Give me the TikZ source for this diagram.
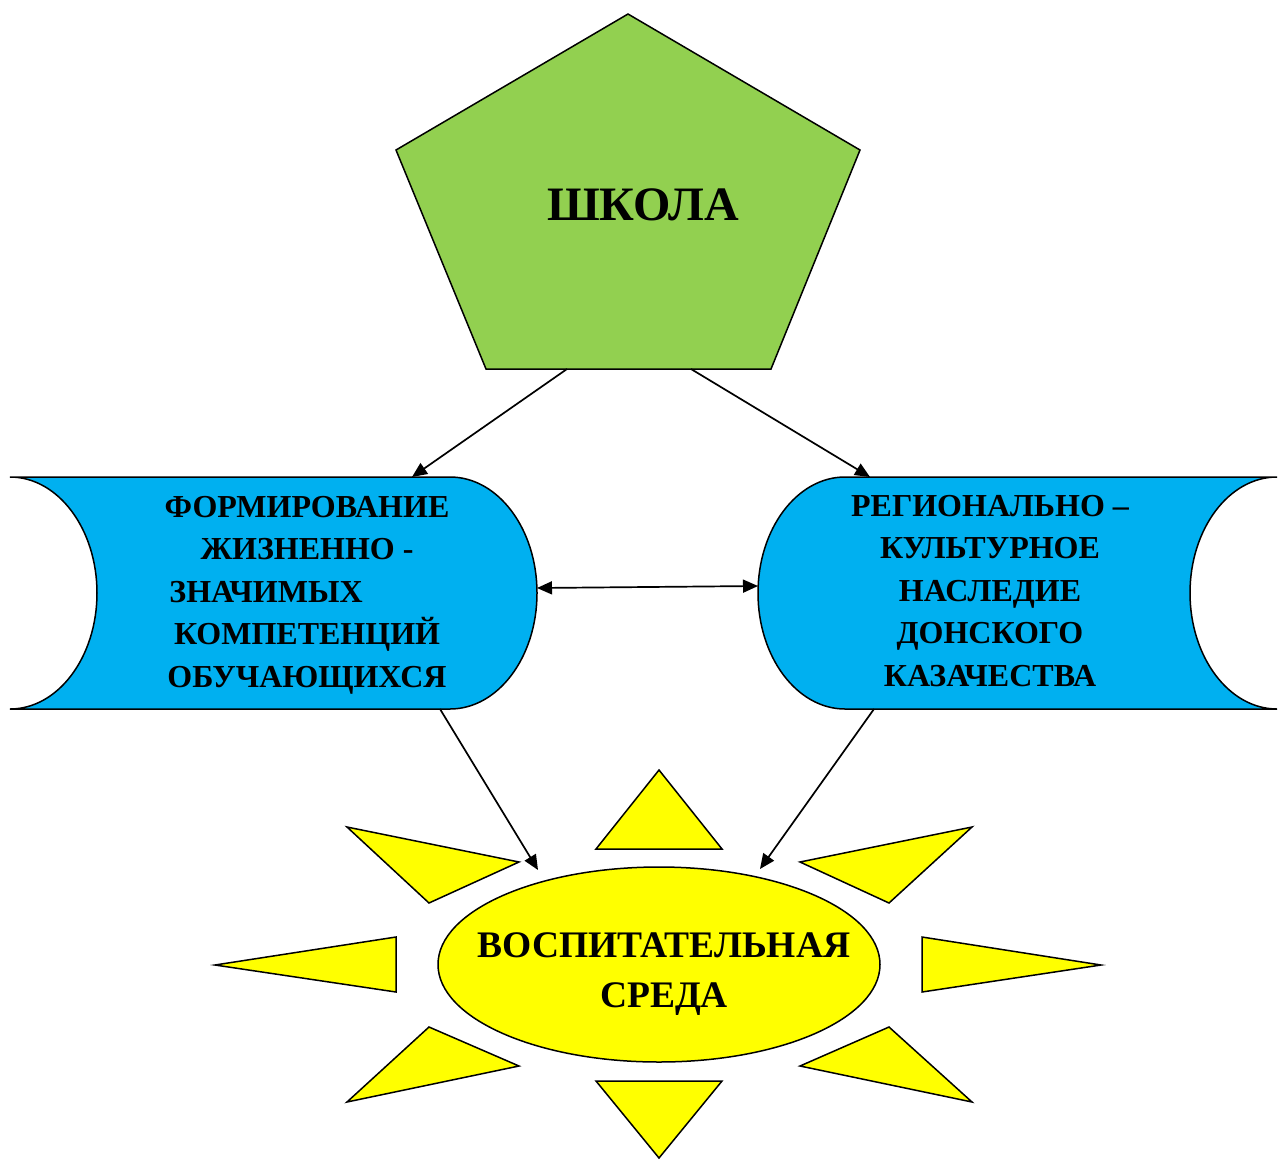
\documentclass[tikz,border=0pt]{standalone}
\usepackage{fontspec}
\setmainfont{Liberation Serif}
\usetikzlibrary{arrows.meta}
\definecolor{schoolgreen}{HTML}{92D050}
\definecolor{scrollblue}{HTML}{00B0F0}
\definecolor{sunyellow}{HTML}{FFFF00}
\begin{document}
\begin{tikzpicture}[x=1pt,y=-1pt,
  shapeline/.style={draw=black,line width=1.5pt,line join=miter},
  conn/.style={draw=black,line width=1.7pt,-{Triangle[length=15pt,width=13pt]}},
  dconn/.style={draw=black,line width=1.7pt,{Triangle[length=15pt,width=13pt]}-{Triangle[length=15pt,width=13pt]}},
  lbl/.style={font=\bfseries\fontsize{32}{42.5}\selectfont,align=center,inner sep=0pt},
  sunlbl/.style={font=\bfseries\fontsize{37.5}{50}\selectfont,align=center,inner sep=0pt},
  schoollbl/.style={font=\bfseries\fontsize{48}{56}\selectfont,inner sep=0pt},
]
\useasboundingbox (0,0) rectangle (1279,1159);

% pentagon
\path[shapeline,fill=schoolgreen] (628,14) -- (860,150) -- (771,369) -- (486,369) -- (396,150) -- cycle;

% left scroll
\path[shapeline,fill=scrollblue] (10,477) -- (450,477)
  .. controls (498.05,477) and (537,528.93) .. (537,593)
  .. controls (537,657.07) and (498.05,709) .. (450,709)
  -- (10,709)
  .. controls (58.05,709) and (97,657.07) .. (97,593)
  .. controls (97,528.93) and (58.05,477) .. (10,477) -- cycle;

% right scroll
\path[shapeline,fill=scrollblue] (845,477) -- (1277,477)
  .. controls (1228.95,477) and (1190,528.93) .. (1190,593)
  .. controls (1190,657.07) and (1228.95,709) .. (1277,709)
  -- (845,709)
  .. controls (796.95,709) and (758,657.07) .. (758,593)
  .. controls (758,528.93) and (796.95,477) .. (845,477) -- cycle;

% sun rays
\path[shapeline,fill=sunyellow] (596,849) -- (722,849) -- (659,770) -- cycle;
\path[shapeline,fill=sunyellow] (596,1081) -- (722,1081) -- (659,1158) -- cycle;
\path[shapeline,fill=sunyellow] (396,937) -- (396,992) -- (215,965) -- cycle;
\path[shapeline,fill=sunyellow] (922,937) -- (922,992) -- (1101,965) -- cycle;
\path[shapeline,fill=sunyellow] (347,827) -- (519,862) -- (429,903) -- cycle;
\path[shapeline,fill=sunyellow] (972,827) -- (800,862) -- (889,903) -- cycle;
\path[shapeline,fill=sunyellow] (347,1102) -- (519,1066) -- (429,1027) -- cycle;
\path[shapeline,fill=sunyellow] (972,1102) -- (800,1066) -- (889,1027) -- cycle;

% sun body
\path[shapeline,fill=sunyellow] (659,964.5) ellipse [x radius=221, y radius=97.5];

% connector end points
\coordinate (pBL) at (567,369);
\coordinate (pBR) at (691,369);
\coordinate (lTop) at (412,477);
\coordinate (rTop) at (870,477);
\coordinate (lE) at (537,588);
\coordinate (rW) at (758,586);
\coordinate (lBot) at (440,709);
\coordinate (rBot) at (874,709);
\coordinate (eL) at (538,870);
\coordinate (eR) at (760,869);

\draw[conn] (pBL) -- (lTop);
\draw[conn] (pBR) -- (rTop);
\draw[dconn] (lE) -- (rW);
\draw[conn] (lBot) -- (eL);
\draw[conn] (rBot) -- (eR);

% labels
\node[schoollbl] (school) at (643,205) {ШКОЛА};
\node[lbl] (ltext) at (307,595) {ФОРМИРОВАНИЕ\\ЖИЗНЕННО -\\ЗНАЧИМЫХ\rule{82pt}{0pt}\\КОМПЕТЕНЦИЙ\\ОБУЧАЮЩИХСЯ};
\node[lbl] (rtext) at (990,591) {РЕГИОНАЛЬНО –\\КУЛЬТУРНОЕ\\НАСЛЕДИЕ\\ДОНСКОГО\\КАЗАЧЕСТВА};
\node[sunlbl] (sun) at (664,974) {ВОСПИТАТЕЛЬНАЯ\\СРЕДА};
\end{tikzpicture}
\end{document}
